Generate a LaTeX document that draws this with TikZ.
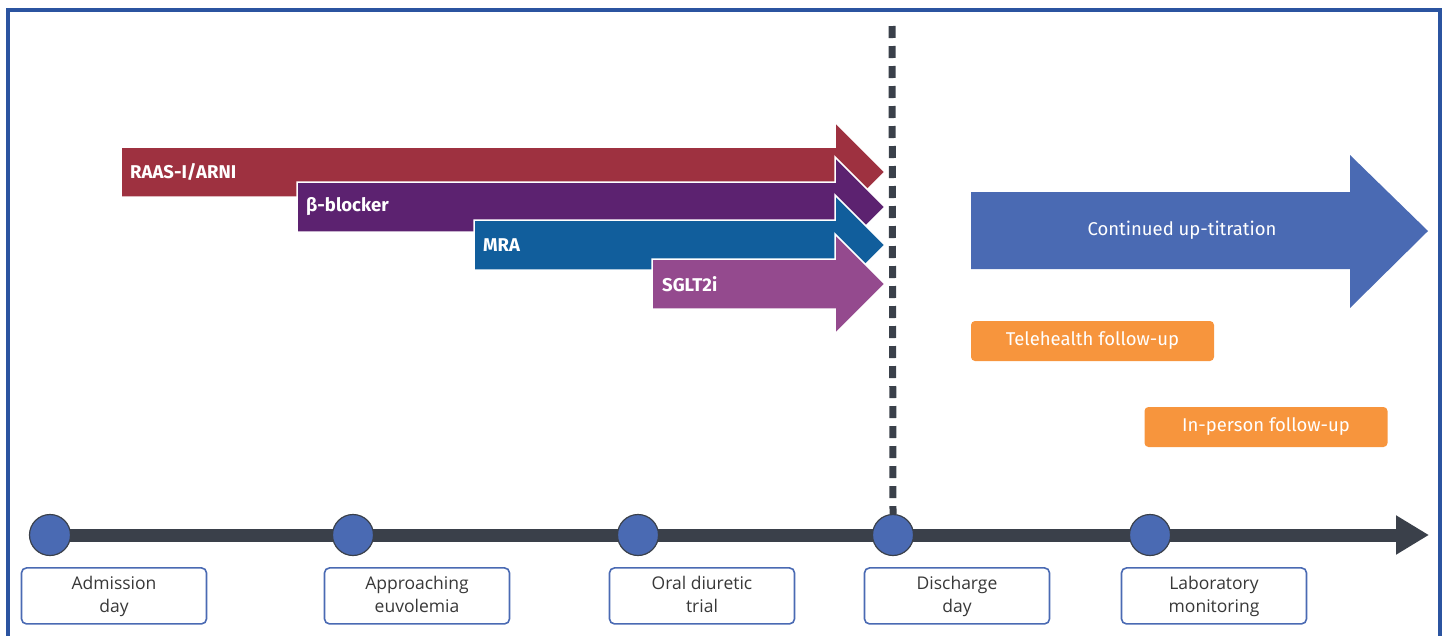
\documentclass[tikz,border=0pt]{standalone}
\usepackage{fontspec}
\setmainfont{Open Sans}
\newfontfamily\lblfont{Fira Sans}
\usetikzlibrary{arrows.meta,positioning}

\definecolor{raascol}{HTML}{9E3140}
\definecolor{betacol}{HTML}{5C2270}
\definecolor{mracol}{HTML}{115E9C}
\definecolor{sgltcol}{HTML}{944A8E}
\definecolor{titcol}{HTML}{4A6AB3}
\definecolor{fupcol}{HTML}{F7953D}
\definecolor{linecol}{HTML}{3A404A}
\definecolor{framecol}{HTML}{2B54A0}

\tikzset{
  drug/.style={font=\lblfont\bfseries\fontsize{18.5}{22}\selectfont, text=white, anchor=west, inner sep=0pt},
  fup/.style={fill=fupcol, rounded corners=4pt, minimum width=243pt, minimum height=40pt,
    text=white, font=\lblfont\fontsize{18.5}{22}\selectfont},
  mile/.style={circle, fill=titcol, draw=linecol, line width=1.2pt, minimum size=41pt, inner sep=0pt},
  daybox/.style={draw=titcol, line width=1.6pt, rounded corners=5pt, fill=white, minimum width=185pt,
    minimum height=56pt, align=center, text=black!78, font=\fontsize{17.5}{23}\selectfont},
}

% arrow for one drug class: #1 left end, #2 centre line, #3 colour
\newcommand{\drugarrow}[3]{%
  \fill[#3, draw=white, line width=1.5pt] (#1,#2-25) -- (835,#2-25) -- (835,#2-50) -- (885,#2)
    -- (835,#2+50) -- (835,#2+25) -- (#1,#2+25) -- cycle;}

\begin{document}
\begin{tikzpicture}[x=1pt, y=-1pt]

\useasboundingbox (0,0) rectangle (1443,635);

% frame
\draw[framecol, line width=4pt] (8,10) rectangle (1440,700);

% drug arrows
\drugarrow{121}{172}{raascol}
\drugarrow{297}{207}{betacol}
\drugarrow{474}{245}{mracol}
\drugarrow{652}{284}{sgltcol}

\node[drug] (raas) at (130,172) {RAAS-I/ARNI};
\node[drug] (beta) at (306,207) {β-blocker};
\node[drug] (mra)  at (483,245) {MRA};
\node[drug] (sglt) at (662,284) {SGLT2i};

% continued up-titration
\fill[titcol] (971,192) -- (1350,192) -- (1350,155) -- (1428,231) -- (1350,308) -- (1350,269)
  -- (971,269) -- cycle;
\node[text=white, font=\lblfont\fontsize{18.5}{22}\selectfont] (titr) at (1182,230) {Continued up-titration};

% follow-up
\node[fup] (tele) at (1092.5,341) {Telehealth follow-up};
\node[fup] (inper) at (1266,427) {In-person follow-up};

% timeline
\coordinate (tlstart) at (50,535);
\coordinate (tlend) at (1429,535);
\coordinate (dashtop) at (892,26);
\draw[linecol, line width=13pt, -{Triangle[length=33pt,width=37pt]}] (tlstart) -- (tlend);

\node[mile] (m1) at (50,535) {};
\node[mile] (m2) at (353,535) {};
\node[mile] (m3) at (638,535) {};
\node[mile] (m4) at (893,535) {};
\node[mile] (m5) at (1150,535) {};

% discharge line
\draw[linecol, line width=7pt, dash pattern=on 12pt off 8pt] (dashtop) -- (m4.north);

% day labels
\node[daybox, below=11pt of m1, xshift=64pt] (b1) {\strut Admission\\\strut day};
\node[daybox, below=11pt of m2, xshift=64pt] (b2) {\strut Approaching\\\strut euvolemia};
\node[daybox, below=11pt of m3, xshift=64pt] (b3) {\strut Oral diuretic\\\strut trial};
\node[daybox, below=11pt of m4, xshift=64pt] (b4) {\strut Discharge\\\strut day};
\node[daybox, below=11pt of m5, xshift=64pt] (b5) {\strut Laboratory\\\strut monitoring};

\end{tikzpicture}
\end{document}
